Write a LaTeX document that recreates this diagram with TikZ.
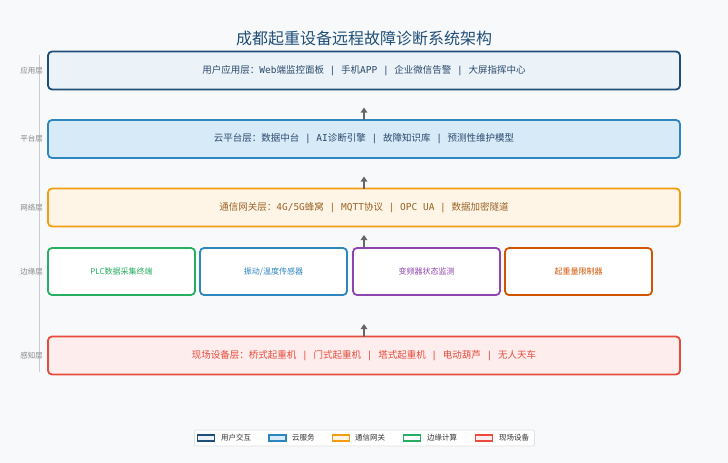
\documentclass[tikz,border=0pt]{standalone}
\usepackage{fontspec}
\setmainfont{Noto Sans CJK SC}
\newfontfamily\monof{DejaVu Sans Mono}
\usetikzlibrary{arrows.meta}
\definecolor{bgc}{HTML}{F8F9FB}
\definecolor{navy}{HTML}{1F4E79}
\definecolor{navyfill}{HTML}{EBF2F8}
\definecolor{cloud}{HTML}{2E86C1}
\definecolor{cloudfill}{HTML}{D6EAF8}
\definecolor{gate}{HTML}{F39C12}
\definecolor{gatefill}{HTML}{FEF5E7}
\definecolor{gatetext}{HTML}{9A6324}
\definecolor{edgeg}{HTML}{27AE60}
\definecolor{edgep}{HTML}{8E44AD}
\definecolor{edgeo}{HTML}{D35400}
\definecolor{field}{HTML}{E74C3C}
\definecolor{fieldfill}{HTML}{FDEDEC}
\definecolor{deeptext}{HTML}{2C4A6B}
\definecolor{sidegray}{HTML}{888888}
\definecolor{linegray}{HTML}{CCCCCC}
\definecolor{arrgray}{HTML}{666666}
\newcommand{\mtx}[1]{{\monof #1}}
\newcommand{\sepbar}{\mtx{ | }}
\tikzset{
  layerbox/.style={draw, line width=1.8pt, rounded corners=4pt, minimum width=632pt, minimum height=38pt, inner sep=0pt, font=\fontsize{9.5}{11}\selectfont},
  edgebox/.style={draw, line width=1.8pt, rounded corners=4pt, fill=white, minimum width=147pt, minimum height=47pt, inner sep=0pt, font=\fontsize{8}{10}\selectfont},
  sidelabel/.style={text=sidegray, font=\fontsize{7.5}{9}\selectfont, inner sep=0pt},
  uparrow/.style={draw=arrgray, line width=1.6pt, -{Triangle[width=6.5pt,length=5pt]}},
  swatch/.style={draw, line width=1.1pt, minimum width=17pt, minimum height=6pt, inner sep=0pt},
  legtext/.style={text=black!80, font=\fontsize{7.5}{9}\selectfont, inner sep=0pt, anchor=west}
}
\begin{document}
\begin{tikzpicture}[x=1pt,y=-1pt]
\fill[bgc] (0,0) rectangle (728,463);
\useasboundingbox (0,0) rectangle (728,463);

\node[text=navy, font=\fontsize{16}{18}\selectfont, inner sep=0pt] (title) at (364,38) {成都起重设备远程故障诊断系统架构};

% side axis
\coordinate (axtop) at (39,55);
\coordinate (axbot) at (39,372);
\draw[linegray, line width=1pt] (axtop) -- (axbot);
\node[sidelabel] (s1) at (31.5,71) {应用层};
\node[sidelabel] (s2) at (31.5,139) {平台层};
\node[sidelabel] (s3) at (31.5,208) {网络层};
\node[sidelabel] (s4) at (31.5,271.5) {边缘层};
\node[sidelabel] (s5) at (31.5,356) {感知层};

% layers
\node[layerbox, draw=navy, fill=navyfill, text=deeptext] (b1) at (364,70.5)
  {用户应用层：\mtx{Web}端监控面板\sepbar 手机\mtx{APP}\sepbar 企业微信告警\sepbar 大屏指挥中心};
\node[layerbox, draw=cloud, fill=cloudfill, text=deeptext] (b2) at (364,139)
  {云平台层：数据中台\sepbar\mtx{AI}诊断引擎\sepbar 故障知识库\sepbar 预测性维护模型};
\node[layerbox, draw=gate, fill=gatefill, text=gatetext] (b3) at (364,207.5)
  {通信网关层：\mtx{4G/5G}蜂窝\sepbar\mtx{MQTT}协议\sepbar\mtx{OPC UA}\sepbar 数据加密隧道};

\node[edgebox, draw=edgeg, text=edgeg] (e1) at (121.5,271.5) {PLC数据采集终端};
\node[edgebox, draw=cloud, text=cloud] (e2) at (273.5,271.5) {振动/温度传感器};
\node[edgebox, draw=edgep, text=edgep] (e3) at (426.5,271.5) {变频器状态监测};
\node[edgebox, draw=edgeo, text=edgeo] (e4) at (578.5,271.5) {起重量限制器};

\node[layerbox, draw=field, fill=fieldfill, text=field, minimum height=38pt] (b5) at (364,355.5)
  {现场设备层：桥式起重机\sepbar 门式起重机\sepbar 塔式起重机\sepbar 电动葫芦\sepbar 无人天车};

% arrows
\coordinate (a1) at (364,107.5);
\coordinate (a2) at (364,176.5);
\coordinate (a3) at (364,235);
\coordinate (a4) at (364,324);
\draw[uparrow] ([yshift=-1pt]b2.north) -- (a1);
\draw[uparrow] ([yshift=-1pt]b3.north) -- (a2);
\draw[uparrow] (364,246.5) -- (a3);
\draw[uparrow] ([yshift=-1pt]b5.north) -- (a4);

% legend
\node[draw=black!12, fill=white, rounded corners=2pt, line width=0.8pt, minimum width=340pt, minimum height=16pt, inner sep=0pt] (leg) at (364.5,438) {};
\node[swatch, draw=navy, fill=navyfill] (l1) at (206,438) {};
\node[legtext] (t1) at (221,438) {用户交互};
\node[swatch, draw=cloud, fill=cloudfill] (l2) at (277.5,438) {};
\node[legtext] (t2) at (292,438) {云服务};
\node[swatch, draw=gate, fill=gatefill] (l3) at (341,438) {};
\node[legtext] (t3) at (355,438) {通信网关};
\node[swatch, draw=edgeg, fill=white] (l4) at (412,438) {};
\node[legtext] (t4) at (427,438) {边缘计算};
\node[swatch, draw=field, fill=fieldfill] (l5) at (484,438) {};
\node[legtext] (t5) at (499,438) {现场设备};
\end{tikzpicture}
\end{document}
